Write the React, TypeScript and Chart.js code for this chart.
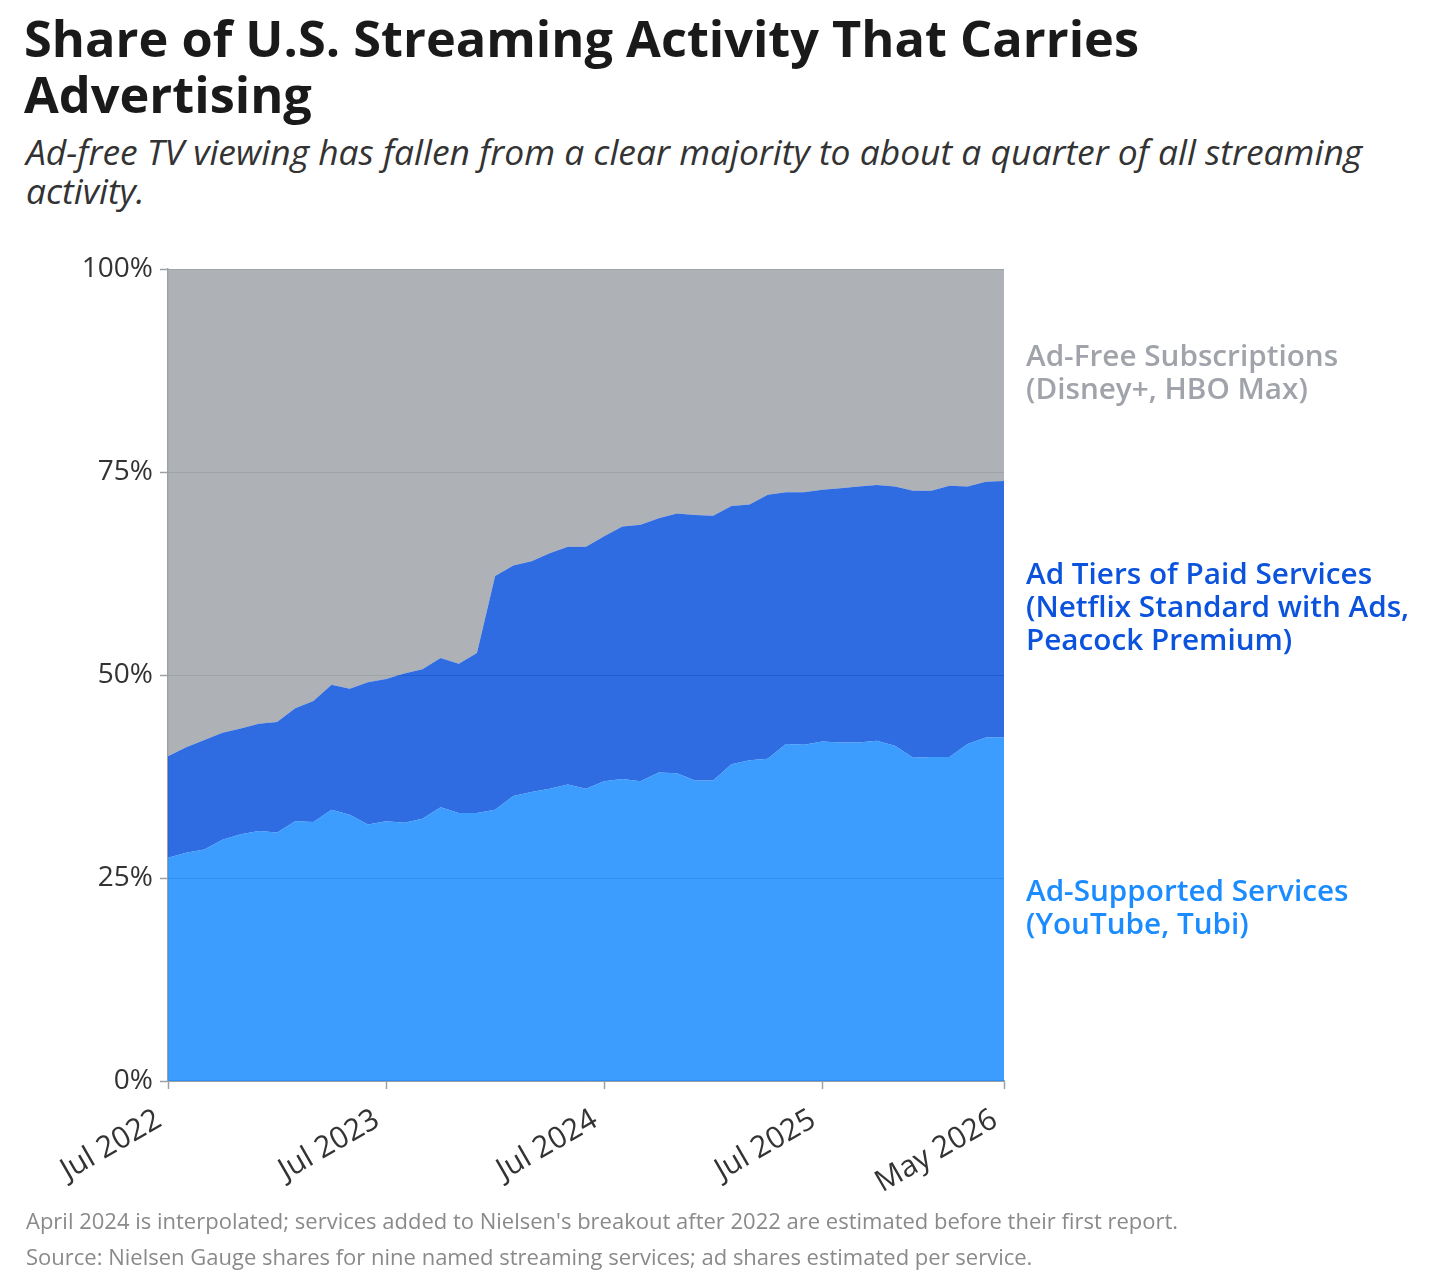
import React, { useEffect, useRef } from 'react';
import { Chart, registerables } from 'chart.js';

Chart.register(...registerables);

const months = [
  'Jul 2022', 'Aug 2022', 'Sep 2022', 'Oct 2022', 'Nov 2022', 'Dec 2022',
  'Jan 2023', 'Feb 2023', 'Mar 2023', 'Apr 2023', 'May 2023', 'Jun 2023',
  'Jul 2023', 'Aug 2023', 'Sep 2023', 'Oct 2023', 'Nov 2023', 'Dec 2023',
  'Jan 2024', 'Feb 2024', 'Mar 2024', 'Apr 2024', 'May 2024', 'Jun 2024',
  'Jul 2024', 'Aug 2024', 'Sep 2024', 'Oct 2024', 'Nov 2024', 'Dec 2024',
  'Jan 2025', 'Feb 2025', 'Mar 2025', 'Apr 2025', 'May 2025', 'Jun 2025',
  'Jul 2025', 'Aug 2025', 'Sep 2025', 'Oct 2025', 'Nov 2025', 'Dec 2025',
  'Jan 2026', 'Feb 2026', 'Mar 2026', 'Apr 2026', 'May 2026',
];

const xTickLabels = ['Jul 2022', 'Jul 2023', 'Jul 2024', 'Jul 2025', 'May 2026'];
const yTickValues = [0, 25, 50, 75, 100];

// Share of streaming activity, % (stacked: ad-supported + ad tiers + ad-free = 100)
const adSupported = [
  27.5, 28.1, 28.5, 29.7, 30.4, 30.8, 30.6, 32.0, 31.9, 33.4, 32.8, 31.6,
  32.0, 31.8, 32.3, 33.7, 33.0, 33.0, 33.4, 35.1, 35.6, 36.0, 36.5, 36.0,
  36.9, 37.2, 36.9, 38.0, 37.9, 37.0, 37.0, 39.0, 39.5, 39.7, 41.5, 41.4,
  41.8, 41.7, 41.7, 41.9, 41.3, 39.8, 39.9, 39.9, 41.5, 42.3, 42.3,
];
const adTiers = [
  12.5, 13.0, 13.5, 13.2, 13.0, 13.2, 13.6, 13.9, 14.9, 15.4, 15.5, 17.5,
  17.5, 18.4, 18.4, 18.4, 18.4, 19.7, 28.8, 28.4, 28.4, 29.0, 29.3, 29.8,
  30.2, 31.1, 31.6, 31.3, 32.0, 32.7, 32.6, 31.8, 31.5, 32.5, 31.0, 31.1,
  31.0, 31.3, 31.5, 31.5, 31.9, 32.9, 32.8, 33.4, 31.7, 31.5, 31.6,
];
const adFree = [
  60.0, 58.9, 58.0, 57.1, 56.6, 56.0, 55.8, 54.1, 53.2, 51.2, 51.7, 50.9,
  50.5, 49.8, 49.3, 47.9, 48.6, 47.3, 37.8, 36.5, 36.0, 35.0, 34.2, 34.2,
  32.9, 31.7, 31.5, 30.7, 30.1, 30.3, 30.4, 29.2, 29.0, 27.8, 27.5, 27.5,
  27.2, 27.0, 26.8, 26.6, 26.8, 27.3, 27.3, 26.7, 26.8, 26.2, 26.1,
];

const FONT = "'Open Sans', 'Noto Sans', sans-serif";
const COL_SUPPORTED = '#1a8cff';
const COL_TIERS = '#0b52dd';
const COL_FREE = '#a0a4aa';

function withAlpha(hex: string, a: number) {
  const n = parseInt(hex.slice(1), 16);
  return `rgba(${(n >> 16) & 255}, ${(n >> 8) & 255}, ${n & 255}, ${a})`;
}

export default function App() {
  const canvasRef = useRef<HTMLCanvasElement | null>(null);

  useEffect(() => {
    const ctx = canvasRef.current;
    if (!ctx) return;
    const axisGrey = '#9aa0a6';
    const chart = new Chart(ctx, {
      type: 'line',
      data: {
        labels: months,
        datasets: [
          {
            label: 'Ad-Supported Services',
            data: adSupported,
            backgroundColor: withAlpha(COL_SUPPORTED, 0.85),
            borderWidth: 0,
            pointRadius: 0,
            fill: 'origin',
            tension: 0,
          },
          {
            label: 'Ad Tiers of Paid Services',
            data: adTiers,
            backgroundColor: withAlpha(COL_TIERS, 0.85),
            borderWidth: 0,
            pointRadius: 0,
            fill: '-1',
            tension: 0,
          },
          {
            label: 'Ad-Free Subscriptions',
            data: adFree,
            backgroundColor: withAlpha(COL_FREE, 0.85),
            borderWidth: 0,
            pointRadius: 0,
            fill: '-1',
            tension: 0,
          },
        ],
      },
      options: {
        animation: false,
        responsive: false,
        maintainAspectRatio: false,
        layout: { padding: { left: 0, right: 56, top: 39, bottom: 0 } },
        plugins: {
          legend: { display: false },
          tooltip: { enabled: false },
        },
        scales: {
          x: {
            type: 'category',
            offset: false,
            afterBuildTicks: (scale: any) => {
              scale.ticks = scale.ticks.filter((t: any) => xTickLabels.includes(months[t.value]));
            },
            afterFit: (scale: any) => {
              scale.height = 129;
            },
            ticks: {
              autoSkip: false,
              minRotation: 30,
              maxRotation: 30,
              padding: 13,
              labelOffset: -9,
              color: '#333333',
              font: { family: FONT, size: 30 },
              callback: (v: any) => months[v as number],
            },
            grid: {
              drawOnChartArea: false,
              drawTicks: true,
              tickLength: 8,
              tickColor: axisGrey,
              tickWidth: 1.5,
            },
            border: { display: true, color: axisGrey, width: 1.5 },
          },
          y: {
            stacked: true,
            min: 0,
            max: 100,
            afterBuildTicks: (scale: any) => {
              scale.ticks = yTickValues.map((v) => ({ value: v }));
            },
            afterFit: (scale: any) => {
              scale.width = 168;
            },
            ticks: {
              padding: 7,
              color: '#333333',
              font: { family: FONT, size: 28 },
              callback: (v: any) => `${v}%`,
            },
            grid: {
              color: '#a0a0a0',
              lineWidth: 1,
              drawTicks: true,
              tickLength: 8,
              tickColor: axisGrey,
              tickWidth: 1.5,
            },
            border: { display: true, color: axisGrey, width: 1.5 },
          },
        },
      },
    });
    return () => chart.destroy();
  }, []);

  const textBase: React.CSSProperties = {
    position: 'absolute',
    fontFamily: FONT,
    margin: 0,
    whiteSpace: 'nowrap',
  };

  const sideLabel = (top: number, color: string, lines: string[]) => (
    <div
      style={{
        ...textBase,
        left: 1026,
        top,
        color,
        fontSize: 29.7,
        fontWeight: 600,
        lineHeight: '33px',
      }}
    >
      {lines.map((l, i) => (
        <div key={i}>{l}</div>
      ))}
    </div>
  );

  return (
    <div style={{ position: 'absolute', left: 0, top: 0, width: 1456, height: 1284, background: '#ffffff' }}>
      <div
        style={{
          ...textBase,
          left: 24,
          top: 10,
          fontSize: 50.5,
          fontWeight: 700,
          lineHeight: '56px',
          color: '#1a1a1a',
        }}
      >
        <div>Share of U.S. Streaming Activity That Carries</div>
        <div>Advertising</div>
      </div>
      <div
        style={{
          ...textBase,
          left: 26,
          top: 132,
          fontSize: 35.4,
          fontStyle: 'italic',
          lineHeight: '39px',
          color: '#333333',
        }}
      >
        <div>Ad-free TV viewing has fallen from a clear majority to about a quarter of all streaming</div>
        <div>activity.</div>
      </div>
      <canvas
        ref={canvasRef}
        width={1060}
        height={980}
        style={{ position: 'absolute', left: 0, top: 230, width: 1060, height: 980 }}
      />
      {sideLabel(338, COL_FREE, ['Ad-Free Subscriptions', '(Disney+, HBO Max)'])}
      {sideLabel(556, COL_TIERS, ['Ad Tiers of Paid Services', '(Netflix Standard with Ads,', 'Peacock Premium)'])}
      {sideLabel(873, COL_SUPPORTED, ['Ad-Supported Services', '(YouTube, Tubi)'])}
      <div
        style={{
          ...textBase,
          left: 26,
          top: 1202,
          fontSize: 22,
          lineHeight: '36px',
          color: '#8a8a8a',
        }}
      >
        <div>April 2024 is interpolated; services added to Nielsen's breakout after 2022 are estimated before their first report.</div>
        <div>Source: Nielsen Gauge shares for nine named streaming services; ad shares estimated per service.</div>
      </div>
    </div>
  );
}
